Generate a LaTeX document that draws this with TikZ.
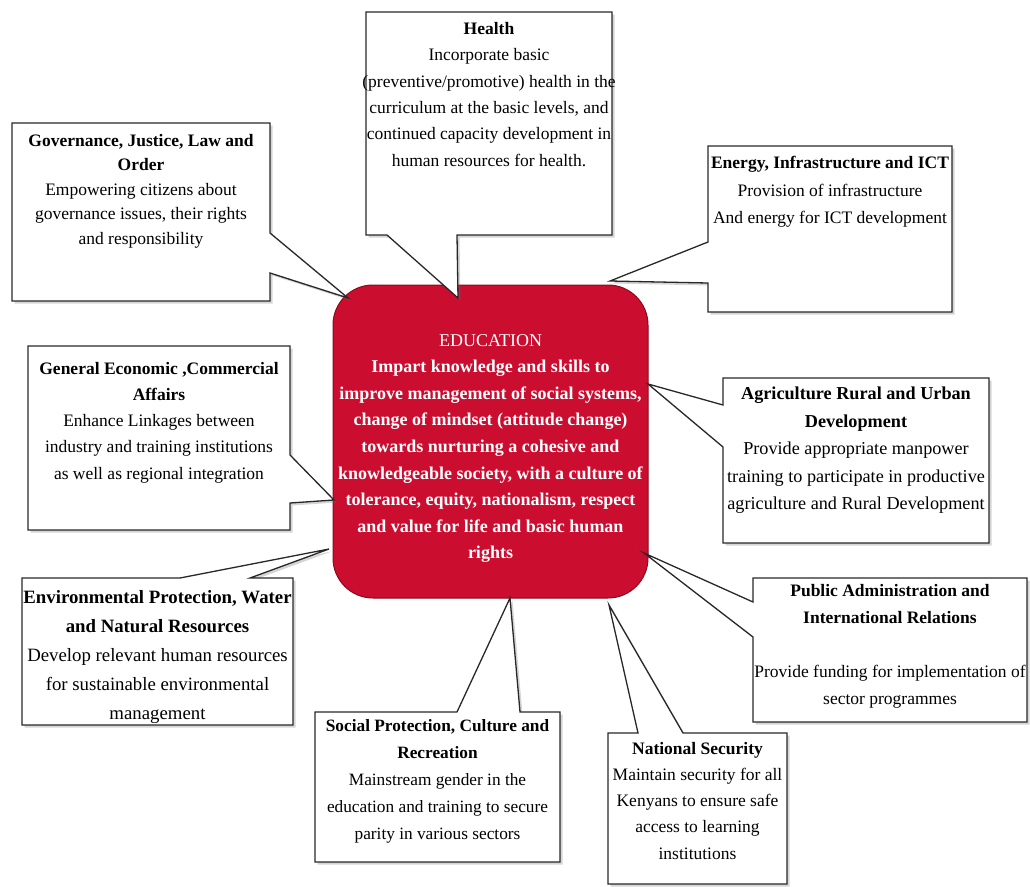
\documentclass[tikz,border=0pt]{standalone}
\usepackage{fontspec}
\setmainfont{Liberation Serif}
\usetikzlibrary{shadows}
\definecolor{edured}{RGB}{203,14,48}
\definecolor{edudark}{RGB}{140,8,28}
\definecolor{edgegray}{RGB}{40,40,40}
\begin{document}
\begin{tikzpicture}[x=1pt,y=-1pt,
  boxnode/.style={rectangle, draw=none, inner sep=0pt, outer sep=0pt},
  calloutpath/.style={draw=edgegray, line width=1.3pt, fill=white, line join=miter,
    drop shadow={shadow xshift=2.5pt, shadow yshift=-2.5pt, opacity=0.3, fill=black!55}},
  boxtext/.style={anchor=north, align=center, inner sep=0pt, text=black,
    font=\fontsize{17.5}{26.4}\selectfont},
  edubox/.style={rectangle, rounded corners=40pt, fill=edured, draw=edudark, line width=1pt,
    inner sep=0pt, outer sep=0pt},
  edutext/.style={anchor=north, align=center, inner sep=0pt, text=white,
    font=\fontsize{18}{26.6}\selectfont},
]
\useasboundingbox (0,0) rectangle (1030,886);

% central box
\node[edubox, minimum width=315pt, minimum height=313pt] (edu) at (490.5,441.5) {};

% box shapes (positions)
\node[boxnode, minimum width=246pt, minimum height=223pt] (H) at (489,123.5) {};
\node[boxnode, minimum width=258pt, minimum height=178pt] (G) at (141,212) {};
\node[boxnode, minimum width=244pt, minimum height=166pt] (E) at (830,229) {};
\node[boxnode, minimum width=262pt, minimum height=184pt] (C) at (159,438) {};
\node[boxnode, minimum width=266pt, minimum height=165pt] (A) at (856,460.5) {};
\node[boxnode, minimum width=271pt, minimum height=147pt] (V) at (157.5,651.5) {};
\node[boxnode, minimum width=245pt, minimum height=150pt] (S) at (437.5,787) {};
\node[boxnode, minimum width=179pt, minimum height=151pt] (N) at (697.5,808.5) {};
\node[boxnode, minimum width=274pt, minimum height=144pt] (P) at (890,650) {};

% pointer base points and tips
\coordinate (hb1) at (387,235);  \coordinate (hb2) at (457,235);  \coordinate (htip) at (458,298);
\coordinate (gb1) at (270,233);  \coordinate (gb2) at (270,273);  \coordinate (gtip) at (348,298);
\coordinate (eb1) at (708,242);  \coordinate (eb2) at (708,283);  \coordinate (etip) at (610,281);
\coordinate (cb1) at (290,455);  \coordinate (cb2) at (290,503);  \coordinate (ctip) at (334,500);
\coordinate (ab1) at (723,405);  \coordinate (ab2) at (723,447);  \coordinate (atip) at (648,384);
\coordinate (pb1) at (753,602);  \coordinate (pb2) at (753,637);  \coordinate (ptip) at (644,553);
\coordinate (nb1) at (638,733);  \coordinate (nb2) at (683,733);  \coordinate (ntip) at (609,605);
\coordinate (sb1) at (457,712);  \coordinate (sb2) at (520,712);  \coordinate (stip) at (510,598);
\coordinate (vb1) at (180,578);  \coordinate (vb2) at (250,578);  \coordinate (vtip) at (329,549);

% callout outlines
\draw[calloutpath] (H.north west) -- (H.north east) -- (H.south east) -- (hb2) -- (htip) -- (hb1) -- (H.south west) -- cycle;
\draw[calloutpath] (G.north west) -- (G.north east) -- (gb1) -- (gtip) -- (gb2) -- (G.south east) -- (G.south west) -- cycle;
\draw[calloutpath] (E.north west) -- (E.north east) -- (E.south east) -- (E.south west) -- (eb2) -- (etip) -- (eb1) -- cycle;
\draw[calloutpath] (C.north west) -- (C.north east) -- (cb1) -- (ctip) -- (cb2) -- (C.south east) -- (C.south west) -- cycle;
\draw[calloutpath] (A.north west) -- (A.north east) -- (A.south east) -- (A.south west) -- (ab2) -- (atip) -- (ab1) -- cycle;
\draw[calloutpath] (P.north west) -- (P.north east) -- (P.south east) -- (P.south west) -- (pb2) -- (ptip) -- (pb1) -- cycle;
\draw[calloutpath] (N.north west) -- (nb1) -- (ntip) -- (nb2) -- (N.north east) -- (N.south east) -- (N.south west) -- cycle;
\draw[calloutpath] (S.north west) -- (sb1) -- (stip) -- (sb2) -- (S.north east) -- (S.south east) -- (S.south west) -- cycle;
\draw[calloutpath] (V.north west) -- (vb1) -- (vtip) -- (vb2) -- (V.north east) -- (V.south east) -- (V.south west) -- cycle;

% central text
\node[edutext] (edut) at (490.5,334) {EDUCATION\\
\textbf{Impart knowledge and skills to}\\
\textbf{improve management of social systems,}\\
\textbf{change of mindset (attitude change)}\\
\textbf{towards nurturing a cohesive and}\\
\textbf{knowledgeable society, with a culture of}\\
\textbf{tolerance, equity, nationalism, respect}\\
\textbf{and value for life and basic human}\\
\textbf{rights}};

% box texts
\node[boxtext] (Ht) at (489,22) {\textbf{Health}\\
Incorporate basic\\
(preventive/promotive) health in the\\
curriculum at the basic levels, and\\
continued capacity development in\\
human resources for health.};

\node[boxtext, font=\fontsize{17.5}{24.5}\selectfont] (Gt) at (141,134) {\textbf{Governance, Justice, Law and}\\
\textbf{Order}\\
Empowering citizens about\\
governance issues, their rights\\
and responsibility};

\node[boxtext, font=\fontsize{17.5}{27.5}\selectfont] (Et) at (830,156) {\textbf{Energy, Infrastructure and ICT}\\
Provision of infrastructure\\
And energy for ICT development};

\node[boxtext, font=\fontsize{17.5}{26.2}\selectfont] (Ct) at (159,362) {\textbf{General Economic ,Commercial}\\
\textbf{Affairs}\\
Enhance Linkages between\\
industry and training institutions\\
as well as regional integration};

\node[boxtext, font=\fontsize{18.2}{27.5}\selectfont] (At) at (856,387) {\textbf{Agriculture Rural and Urban}\\
\textbf{Development}\\
Provide appropriate manpower\\
training to participate in productive\\
agriculture and Rural Development};

\node[boxtext, font=\fontsize{18.8}{29}\selectfont] (Vt) at (157.5,590) {\textbf{Environmental Protection, Water}\\
\textbf{and Natural Resources}\\
Develop relevant human resources\\
for sustainable environmental\\
management};

\node[boxtext, font=\fontsize{17.3}{27}\selectfont] (St) at (437.5,719) {\textbf{Social Protection, Culture and}\\
\textbf{Recreation}\\
Mainstream gender in the\\
education and training to secure\\
parity in various sectors};

\node[boxtext, font=\fontsize{17.5}{26.2}\selectfont] (Nt) at (697.5,742) {\textbf{National Security}\\
Maintain security for all\\
Kenyans to ensure safe\\
access to learning\\
institutions};

\node[boxtext, font=\fontsize{17.5}{27}\selectfont] (Pt) at (890,584) {\textbf{Public Administration and}\\
\textbf{International Relations}\\[27pt]
Provide funding for implementation of\\
sector programmes};
\end{tikzpicture}
\end{document}
